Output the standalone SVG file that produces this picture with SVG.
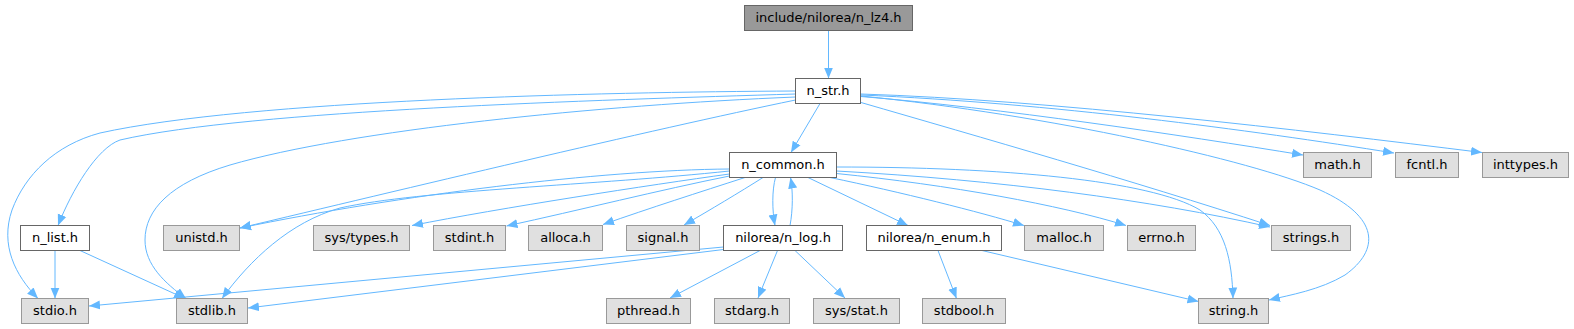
<svg xmlns="http://www.w3.org/2000/svg" width="1574" height="329" viewBox="0 0 1574 329">
<style>
.n rect{stroke-width:1}
.w rect{fill:#ffffff;stroke:#666666}
.g rect{fill:#e0e0e0;stroke:#999999}
.t rect{fill:#999999;stroke:#666666}
text{font-family:"DejaVu Sans","Liberation Sans",sans-serif;font-size:13px;fill:#000000;text-anchor:middle}
.e path{fill:none;stroke:#63b8ff;stroke-width:1;marker-end:url(#a)}
</style>
<defs>
<marker id="a" markerUnits="userSpaceOnUse" markerWidth="12" markerHeight="10" viewBox="-11 -5 12 10" refX="0" refY="0" orient="auto">
<path d="M-11,-4.5 L0,0 L-11,4.5 Z" fill="#63b8ff"/>
</marker>
</defs>
<rect width="1574" height="329" fill="#ffffff"/>
<g id="edges" class="e">
<path d="M828.5,30.5 L828.5,78.5"/>
<path d="M820,103.5 L791,152.5"/>
<path d="M795.5,91 C600,92 250,100 100,133 C55,145 25,175 12,210 C0,245 15,275 38,298.5"/>
<path d="M795.5,94 C600,100 250,110 120,140 C97,148 72,190 58,225.5"/>
<path d="M795.5,97 C600,105 350,130 230,165 C170,183 145,210 145,240 C145,265 165,283 186,298.5"/>
<path d="M795.5,100 C650,130 400,190 240,228"/>
<path d="M729.5,169 C600,170 400,195 240,228"/>
<path d="M729.5,171 C600,185 420,190 340,208 C290,222 250,260 222,298.5"/>
<path d="M729.5,174 C650,185 500,208 412,225.5"/>
<path d="M729.5,176 C660,190 580,210 506.5,226"/>
<path d="M745,177.5 C700,192 650,208 603,224.5"/>
<path d="M763,177.5 C740,192 710,210 684,225"/>
<path d="M775.5,177.5 C772,190 772,210 775,225.5"/>
<path d="M790,225.5 C793,210 793,190 790.5,177.5"/>
<path d="M808,177.5 L908,225.5"/>
<path d="M830,177.5 C900,192 980,212 1024,225.5"/>
<path d="M836.5,173.5 C950,185 1060,205 1126,225.5"/>
<path d="M836.5,171 C1000,180 1150,200 1270,227"/>
<path d="M836.5,167 C1000,167 1150,180 1200,210 C1225,228 1232,260 1233,298.5"/>
<path d="M861,102.5 C980,137 1130,180 1270,225.5"/>
<path d="M861,96 C1050,115 1250,160 1320,190 C1380,217 1380,250 1345,275 C1320,290 1290,295 1269,300"/>
<path d="M861,94 C1050,100 1300,130 1482,152.5"/>
<path d="M861,95 C1050,103 1250,130 1394,153"/>
<path d="M861,96.5 C1000,108 1180,135 1303,155"/>
<path d="M723.5,247 L89,306"/>
<path d="M723.5,249.5 L248,308"/>
<path d="M760,250.5 L670,298"/>
<path d="M777.5,250.5 L758,298"/>
<path d="M795,250.5 L845,298"/>
<path d="M938,250.5 L956.5,298.5"/>
<path d="M982,250.5 L1198.5,301.5"/>
<path d="M55,250.5 L55,298.5"/>
<path d="M80,250.5 L185,298.5"/>
</g>
<g id="n_lz4" class="n t"><rect x="744.5" y="5.5" width="168" height="25"/><text x="828.5" y="22">include/nilorea/n_lz4.h</text></g>
<g id="n_str" class="n w"><rect x="795.5" y="78.5" width="65" height="25"/><text x="828" y="95">n_str.h</text></g>
<g id="n_common" class="n w"><rect x="729.5" y="152.5" width="107" height="25"/><text x="783" y="169">n_common.h</text></g>
<g id="math" class="n g"><rect x="1303.5" y="152.5" width="68" height="25"/><text x="1337.5" y="169">math.h</text></g>
<g id="fcntl" class="n g"><rect x="1395.5" y="152.5" width="63" height="25"/><text x="1427" y="169">fcntl.h</text></g>
<g id="inttypes" class="n g"><rect x="1482.5" y="152.5" width="86" height="25"/><text x="1525.5" y="169">inttypes.h</text></g>
<g id="n_list" class="n w"><rect x="20.5" y="225.5" width="69" height="25"/><text x="55" y="242">n_list.h</text></g>
<g id="unistd" class="n g"><rect x="163.5" y="225.5" width="76" height="25"/><text x="201.5" y="242">unistd.h</text></g>
<g id="systypes" class="n g"><rect x="313.5" y="225.5" width="96" height="25"/><text x="361.5" y="242">sys/types.h</text></g>
<g id="stdint" class="n g"><rect x="433.5" y="225.5" width="72" height="25"/><text x="469.5" y="242">stdint.h</text></g>
<g id="alloca" class="n g"><rect x="528.5" y="225.5" width="74" height="25"/><text x="565.5" y="242">alloca.h</text></g>
<g id="signal" class="n g"><rect x="626.5" y="225.5" width="73" height="25"/><text x="663" y="242">signal.h</text></g>
<g id="n_log" class="n w"><rect x="723.5" y="225.5" width="119" height="25"/><text x="783" y="242">nilorea/n_log.h</text></g>
<g id="n_enum" class="n w"><rect x="866.5" y="225.5" width="135" height="25"/><text x="934" y="242">nilorea/n_enum.h</text></g>
<g id="malloc" class="n g"><rect x="1024.5" y="225.5" width="79" height="25"/><text x="1064" y="242">malloc.h</text></g>
<g id="errno" class="n g"><rect x="1127.5" y="225.5" width="68" height="25"/><text x="1161.5" y="242">errno.h</text></g>
<g id="strings" class="n g"><rect x="1271.5" y="225.5" width="79" height="25"/><text x="1311" y="242">strings.h</text></g>
<g id="stdio" class="n g"><rect x="21.5" y="298.5" width="67" height="25"/><text x="55" y="315">stdio.h</text></g>
<g id="stdlib" class="n g"><rect x="176.5" y="298.5" width="71" height="25"/><text x="212" y="315">stdlib.h</text></g>
<g id="pthread" class="n g"><rect x="606.5" y="298.5" width="84" height="25"/><text x="648.5" y="315">pthread.h</text></g>
<g id="stdarg" class="n g"><rect x="714.5" y="298.5" width="75" height="25"/><text x="752" y="315">stdarg.h</text></g>
<g id="sysstat" class="n g"><rect x="813.5" y="298.5" width="86" height="25"/><text x="856.5" y="315">sys/stat.h</text></g>
<g id="stdbool" class="n g"><rect x="922.5" y="298.5" width="83" height="25"/><text x="964" y="315">stdbool.h</text></g>
<g id="string" class="n g"><rect x="1198.5" y="298.5" width="70" height="25"/><text x="1233.5" y="315">string.h</text></g>
</svg>
